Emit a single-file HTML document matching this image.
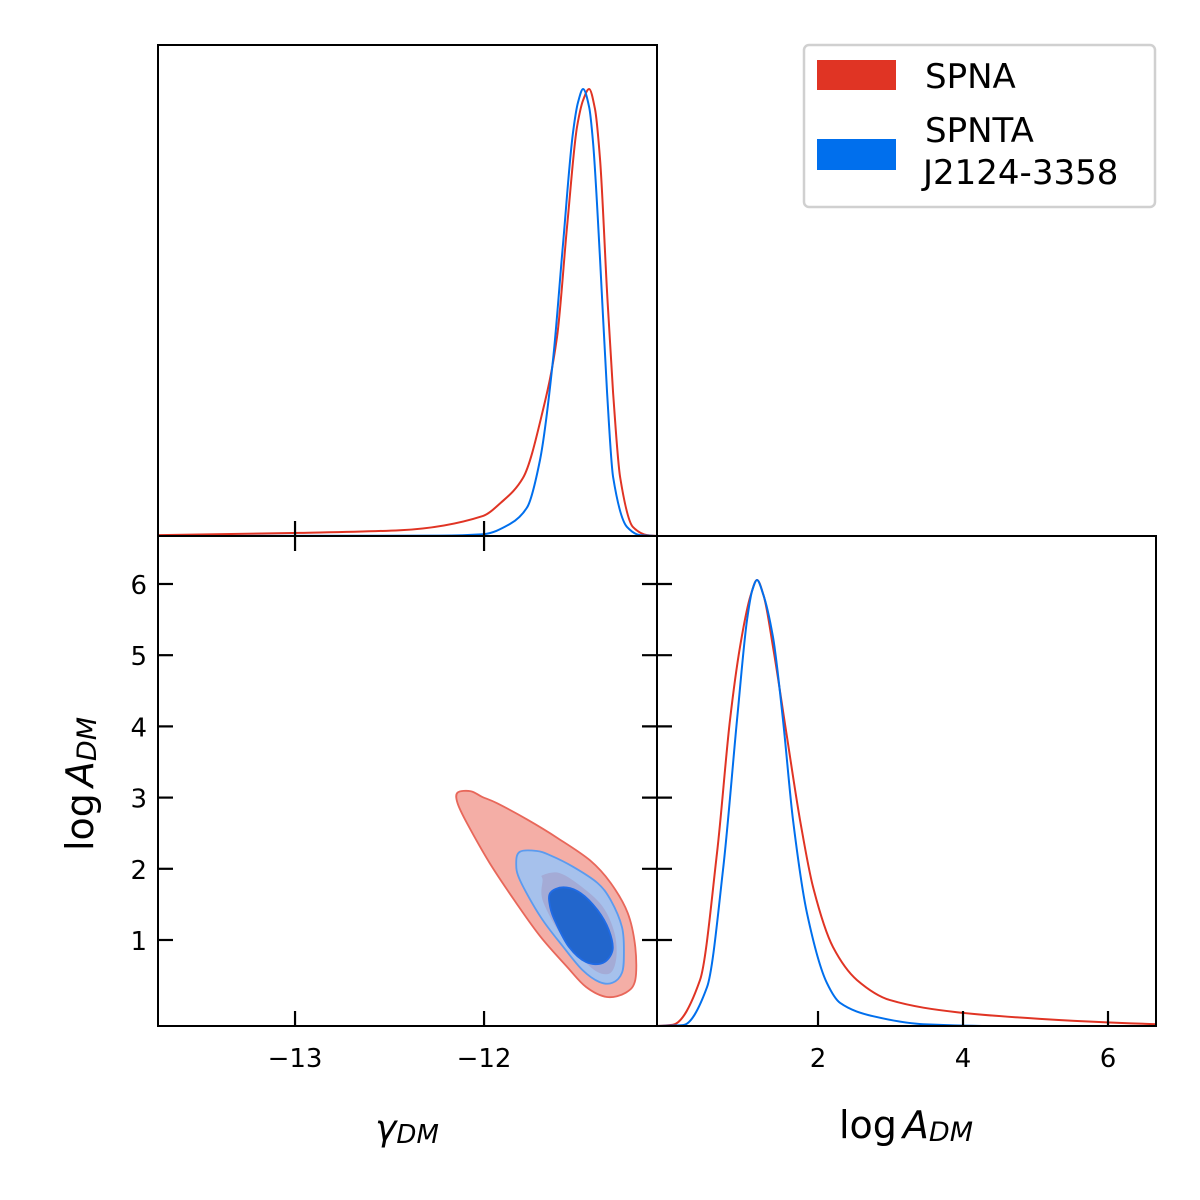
<!DOCTYPE html>
<html><head><meta charset="utf-8"><title>Corner plot</title>
<style>
html,body{margin:0;padding:0;background:#fff;}
svg{display:block;font-family:"DejaVu Sans","Liberation Sans",sans-serif;}
</style></head>
<body>
<svg id="chart" width="1200" height="1200" viewBox="0 0 1200 1200" xmlns="http://www.w3.org/2000/svg">
<rect x="0" y="0" width="1200" height="1200" fill="#fff"/>
<g id="marks"></g>
<g id="frames" fill="none" stroke="#000" stroke-width="2">
  <rect x="158" y="45" width="499" height="491"/>
  <rect x="158" y="536" width="499" height="490"/>
  <rect x="657" y="536" width="499" height="490"/>
</g>
<g id="ticks" stroke="#000" stroke-width="2.2"></g>
<g id="labels" font-size="26" fill="#000"></g>
<text x="407" y="1140" font-size="36" text-anchor="middle" font-style="italic">γ<tspan font-size="26" dy="3">DM</tspan></text>
<text x="906" y="1138" font-size="38" text-anchor="middle">log<tspan font-style="italic" dx="6">A</tspan><tspan font-style="italic" font-size="27" dy="3">DM</tspan></text>
<text transform="translate(93,784) rotate(-90)" font-size="38" text-anchor="middle">log<tspan font-style="italic" dx="6">A</tspan><tspan font-style="italic" font-size="27" dy="3">DM</tspan></text>
<g>
  <rect x="804" y="45" width="351" height="162" rx="5" fill="#fff" stroke="#d0d0d0" stroke-width="2.5"/>
  <rect x="817" y="60" width="79" height="30" fill="#e03424"/>
  <text x="925" y="88" font-size="34">SPNA</text>
  <rect x="817" y="139" width="79" height="31" fill="#006fed"/>
  <text x="925" y="142" font-size="34">SPNTA</text>
  <text x="923" y="184" font-size="34">J2124-3358</text>
</g>
</svg>
<script>
// ---- data ----
const gammaRedX = [-13.725,-12.974,-12.444,-12.005,-11.91,-11.794,-11.688,-11.614,-11.561,-11.508,-11.476,-11.444,-11.413,-11.386,-11.349,-11.317,-11.280,-11.212,-11.138,-11.085];
const gammaRedY = [0.002,0.007,0.013,0.045,0.075,0.130,0.282,0.445,0.691,0.915,0.975,1.0,0.955,0.841,0.544,0.320,0.132,0.020,0.002,0];
const gammaBlueX = [-13.725,-12.233,-12.005,-11.862,-11.772,-11.704,-11.635,-11.582,-11.529,-11.503,-11.476,-11.444,-11.423,-11.386,-11.349,-11.317,-11.243,-11.175,-11.085];
const gammaBlueY = [0,0.001,0.004,0.027,0.064,0.170,0.394,0.655,0.904,0.97,1.0,0.96,0.879,0.617,0.320,0.132,0.020,0.002,0];
const logARedX = [-0.221,0.0,0.372,0.607,0.786,0.924,1.07,1.159,1.25,1.379,1.572,1.752,1.931,2.207,2.538,2.993,3.917,5.062,5.986,6.662];
const logARedY = [0,0.003,0.103,0.388,0.686,0.850,0.965,1.0,0.965,0.85,0.648,0.462,0.312,0.177,0.103,0.058,0.031,0.016,0.008,0.004];
const logABlueX = [-0.221,0.138,0.469,0.690,0.883,1.021,1.09,1.159,1.24,1.379,1.517,1.655,1.848,2.124,2.303,2.759,3.448,4.51,6.662];
const logABlueY = [0,0.002,0.087,0.35,0.686,0.91,0.975,1.0,0.97,0.872,0.686,0.462,0.253,0.096,0.052,0.022,0.004,0,0];
const redOuter = [[-12.14,3.07],[-12.07,3.09],[-12.01,3.01],[-11.93,2.92],[-11.77,2.69],[-11.61,2.43],[-11.44,2.12],[-11.33,1.80],[-11.24,1.38],[-11.20,0.90],[-11.20,0.44],[-11.25,0.26],[-11.35,0.20],[-11.46,0.34],[-11.56,0.62],[-11.70,1.04],[-11.83,1.52],[-11.97,2.08],[-12.09,2.64],[-12.14,2.92]];
const blueOuter = [[-11.81,2.24],[-11.72,2.25],[-11.65,2.19],[-11.53,2.03],[-11.40,1.80],[-11.33,1.56],[-11.27,1.18],[-11.26,0.82],[-11.27,0.54],[-11.32,0.40],[-11.39,0.41],[-11.48,0.58],[-11.58,0.90],[-11.70,1.32],[-11.81,1.84],[-11.83,2.08]];
const redInner = [[-11.69,1.91],[-11.60,1.94],[-11.48,1.74],[-11.37,1.46],[-11.31,1.10],[-11.30,0.76],[-11.33,0.54],[-11.40,0.55],[-11.49,0.76],[-11.60,1.10],[-11.69,1.56],[-11.69,1.84]];
const blueInner = [[-11.65,1.66],[-11.58,1.74],[-11.49,1.66],[-11.40,1.42],[-11.34,1.14],[-11.32,0.86],[-11.37,0.68],[-11.46,0.69],[-11.55,0.90],[-11.62,1.24],[-11.65,1.46]];
const gammaTicks = [-13,-12];
const gammaTickLabels = ["\u221213","\u221212"];
const logATicks = [1,2,3,4,5,6];
const logATickLabels = ["1","2","3","4","5","6"];
const logAXTicks = [2,4,6];
const logAXTickLabels = ["2","4","6"];

// ---- axes ----
const gx = v => 158 + (v + 13.725) / 2.64 * 499;
const ly = v => 1026 - (v + 0.208) / 6.882 * 490;
const lx = v => 657 + (v + 0.221) / 6.883 * 499;
const dTop = d => 536 - d * 447;
const dBot = d => 1026 - d * 446;

const NS = "http://www.w3.org/2000/svg";
const marks = document.getElementById('marks');
function mk(tag, parent){ const e = document.createElementNS(NS, tag); parent.appendChild(e); return e; }
function monotone(p){
  const n = p.length, dx = [], s = [], m = [];
  for (let i = 0; i < n-1; i++){ dx[i] = p[i+1][0]-p[i][0]; s[i] = (p[i+1][1]-p[i][1])/dx[i]; }
  m[0] = s[0]; m[n-1] = s[n-2];
  for (let i = 1; i < n-1; i++){
    if (s[i-1]*s[i] <= 0) m[i] = 0;
    else { const w1 = 2*dx[i]+dx[i-1], w2 = dx[i]+2*dx[i-1]; m[i] = (w1+w2)/(w1/s[i-1]+w2/s[i]); }
  }
  let d = "M" + p[0][0].toFixed(1) + "," + p[0][1].toFixed(1);
  for (let i = 0; i < n-1; i++){
    const h = dx[i]/3;
    d += "C" + (p[i][0]+h).toFixed(1) + "," + (p[i][1]+m[i]*h).toFixed(1) + " " +
         (p[i+1][0]-h).toFixed(1) + "," + (p[i+1][1]-m[i+1]*h).toFixed(1) + " " +
         p[i+1][0].toFixed(1) + "," + p[i+1][1].toFixed(1);
  }
  return d;
}
function smoothClosed(p){
  const n = p.length;
  let d = "M" + p[0][0].toFixed(1) + "," + p[0][1].toFixed(1);
  for (let i = 0; i < n; i++){
    const p0 = p[(i-1+n)%n], p1 = p[i], p2 = p[(i+1)%n], p3 = p[(i+2)%n];
    const c1 = [p1[0] + (p2[0]-p0[0])/6, p1[1] + (p2[1]-p0[1])/6];
    const c2 = [p2[0] - (p3[0]-p1[0])/6, p2[1] - (p3[1]-p1[1])/6];
    d += "C" + c1.map(v=>v.toFixed(1)).join(",") + " " + c2.map(v=>v.toFixed(1)).join(",") + " " + p2[0].toFixed(1) + "," + p2[1].toFixed(1);
  }
  return d + "Z";
}

const contours = [
  [redOuter, '#f4aea6', '#e8675a', 'contour-spna-2sigma'],
  [blueOuter, '#a6c1ec', '#5b9bef', 'contour-spnta-2sigma'],
  [redInner, '#a4abd6', 'none', 'contour-spna-1sigma'],
  [blueInner, '#2266cc', '#1f6be6', 'contour-spnta-1sigma']
];
contours.forEach(c => {
  const pts = c[0].map(q => [gx(q[0]), ly(q[1])]);
  const p = mk('path', marks);
  p.setAttribute('d', smoothClosed(pts));
  p.setAttribute('fill', c[1]);
  p.setAttribute('stroke', c[2]);
  p.setAttribute('stroke-width', '1.8');
  
  
});

const curves = [
  [gammaRedX, gammaRedY, gx, dTop, '#e03424', 'gamma-pdf-spna'],
  [gammaBlueX, gammaBlueY, gx, dTop, '#006fed', 'gamma-pdf-spnta'],
  [logARedX, logARedY, lx, dBot, '#e03424', 'logA-pdf-spna'],
  [logABlueX, logABlueY, lx, dBot, '#006fed', 'logA-pdf-spnta']
];
curves.forEach(c => {
  const pts = c[0].map((v,i) => [c[2](v), c[3](c[1][i])]);
  const p = mk('path', marks);
  p.setAttribute('d', monotone(pts));
  p.setAttribute('fill', 'none');
  p.setAttribute('stroke', c[4]);
  p.setAttribute('stroke-width', '2');
  
  
});

const ticks = document.getElementById('ticks');
const labels = document.getElementById('labels');
function line(x1,y1,x2,y2,name){
  const l = mk('line', ticks);
  l.setAttribute('x1',x1); l.setAttribute('y1',y1); l.setAttribute('x2',x2); l.setAttribute('y2',y2);
  
  
}
function label(x,y,t,anchor,name){
  const e = mk('text', labels);
  e.setAttribute('x', x); e.setAttribute('y', y); e.setAttribute('text-anchor', anchor);
  e.textContent = t;
  
  
}
gammaTicks.forEach((v,i) => {
  const x = gx(v);
  line(x, 521, x, 551, 'gamma-tick-mid');
  line(x, 1011, x, 1026, 'gamma-tick-bottom');
  label(x, 1067, gammaTickLabels[i], 'middle', 'gamma-tick-label');
});
logATicks.forEach((v,i) => {
  const y = ly(v);
  line(158, y, 173, y, 'logA-y-tick-left');
  line(642, y, 672, y, 'logA-y-tick-right');
  label(147, y + 10, logATickLabels[i], 'end', 'logA-y-tick-label');
});
logAXTicks.forEach((v,i) => {
  const x = lx(v);
  line(x, 1011, x, 1026, 'logA-x-tick-bottom');
  label(x, 1067, logAXTickLabels[i], 'middle', 'logA-x-tick-label');
});
</script>
</body></html>
